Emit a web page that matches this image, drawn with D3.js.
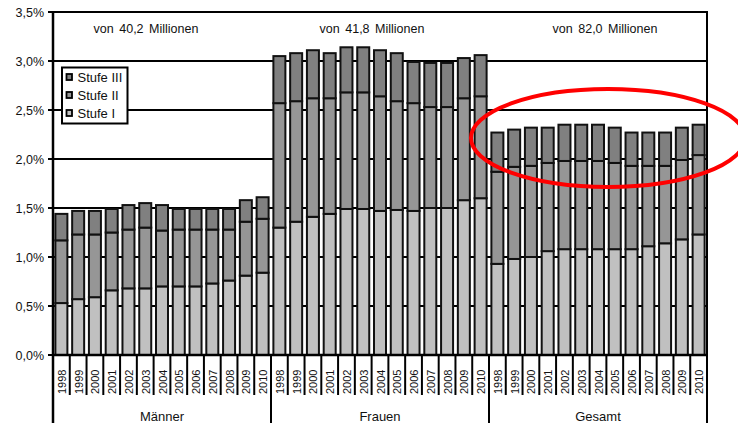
<!DOCTYPE html>
<html>
<head>
<meta charset="utf-8">
<script src="https://cdn.jsdelivr.net/npm/d3@7/dist/d3.min.js"></script>
<style>
  html, body { margin: 0; padding: 0; background: #fff; }
  svg { display: block; font-family: "Liberation Sans", Arial, sans-serif; }
</style>
</head>
<body>
<svg id="chart" width="738" height="423"></svg>
<script>
// ---- data ----
const years = ["1998","1999","2000","2001","2002","2003","2004","2005","2006","2007","2008","2009","2010"];
const groups = ["Männer","Frauen","Gesamt"];
const groupSubtitles = ["von 40,2 Millionen","von 41,8 Millionen","von 82,0 Millionen"];
const seriesNames = ["Stufe I","Stufe II","Stufe III"];
const seriesColors = ["#c0c0c0","#969696","#808080"];
const yTicks = [0, 0.5, 1.0, 1.5, 2.0, 2.5, 3.0, 3.5];

const maennerI   = [0.53,0.57,0.59,0.66,0.68,0.68,0.70,0.70,0.70,0.73,0.76,0.81,0.84];
const maennerII  = [0.64,0.66,0.64,0.59,0.60,0.62,0.57,0.58,0.58,0.55,0.52,0.55,0.55];
const maennerIII = [0.27,0.24,0.24,0.24,0.25,0.25,0.26,0.21,0.21,0.21,0.21,0.22,0.22];

const frauenI    = [1.30,1.36,1.41,1.44,1.49,1.49,1.47,1.48,1.47,1.50,1.50,1.58,1.60];
const frauenII   = [1.27,1.23,1.21,1.18,1.19,1.19,1.17,1.11,1.10,1.03,1.03,1.04,1.04];
const frauenIII  = [0.48,0.49,0.49,0.46,0.46,0.46,0.47,0.49,0.42,0.45,0.45,0.41,0.42];

const gesamtI    = [0.93,0.98,1.00,1.06,1.08,1.08,1.08,1.08,1.08,1.11,1.14,1.18,1.23];
const gesamtII   = [0.94,0.94,0.93,0.90,0.90,0.90,0.90,0.88,0.85,0.82,0.79,0.81,0.81];
const gesamtIII  = [0.40,0.38,0.39,0.36,0.37,0.37,0.37,0.36,0.34,0.34,0.34,0.33,0.31];

// ---- build table ----
const groupSeries = [
  [maennerI, maennerII, maennerIII],
  [frauenI, frauenII, frauenIII],
  [gesamtI, gesamtII, gesamtIII]
];
const rows = [];
groups.forEach((g, gi) => {
  years.forEach((y, yi) => {
    rows.push({
      key: g + "|" + y, group: g, year: y,
      "Stufe I": groupSeries[gi][0][yi],
      "Stufe II": groupSeries[gi][1][yi],
      "Stufe III": groupSeries[gi][2][yi]
    });
  });
});

// ---- layout ----
const W = 738, H = 423;
const plot = { left: 53, right: 707, top: 12, bottom: 355 };
const svg = d3.select("#chart");

const x = d3.scaleBand().domain(rows.map(d => d.key)).range([plot.left, plot.right]).padding(0);
const y = d3.scaleLinear().domain([0, 3.5]).range([plot.bottom, plot.top]);
const color = d3.scaleOrdinal().domain(seriesNames).range(seriesColors);

// gridlines (with tick stubs on the left)
svg.append("g").selectAll("line").data(yTicks).join("line")
  .attr("x1", plot.left - 5).attr("x2", plot.right)
  .attr("y1", d => y(d)).attr("y2", d => y(d))
  .attr("stroke", "#000").attr("stroke-width", 2);

// y labels
const fmt = v => d3.format(".1f")(v).replace(".", ",") + "%";
svg.append("g").selectAll("text").data(yTicks).join("text")
  .attr("x", plot.left - 9).attr("y", d => y(d) + 4.5)
  .attr("text-anchor", "end").attr("font-size", 12.5).attr("fill", "#111")
  .text(fmt);

// bars
const stack = d3.stack().keys(seriesNames);
const stacked = stack(rows);
const barW = 12;
svg.append("g").selectAll("g").data(stacked).join("g")
  .attr("fill", d => color(d.key))
  .selectAll("rect").data(d => d).join("rect")
  .attr("x", d => x(d.data.key) + (x.bandwidth() - barW) / 2)
  .attr("width", barW)
  .attr("y", d => y(d[1]))
  .attr("height", d => y(d[0]) - y(d[1]))
  .attr("stroke", "#111").attr("stroke-width", 2);

// axes borders
svg.append("line").attr("x1", plot.left).attr("x2", plot.left)
  .attr("y1", plot.top - 1).attr("y2", H).attr("stroke", "#000").attr("stroke-width", 2.5);
svg.append("line").attr("x1", plot.right).attr("x2", plot.right)
  .attr("y1", plot.top - 1).attr("y2", H).attr("stroke", "#000").attr("stroke-width", 2);
svg.append("line").attr("x1", plot.left).attr("x2", plot.right)
  .attr("y1", plot.bottom).attr("y2", plot.bottom).attr("stroke", "#000").attr("stroke-width", 2.5);

// category separators
const step = x.step();
const seps = d3.range(1, rows.length);
svg.append("g").selectAll("line").data(seps).join("line")
  .attr("x1", i => plot.left + i * step).attr("x2", i => plot.left + i * step)
  .attr("y1", plot.bottom)
  .attr("y2", i => (i % years.length === 0) ? H : 395)
  .attr("stroke", "#000").attr("stroke-width", 2);

// year labels
svg.append("g").selectAll("text").data(rows).join("text")
  .attr("transform", d => `translate(${x(d.key) + x.bandwidth() / 2 + 0.5},394) rotate(-90)`)
  .attr("dominant-baseline", "central")
  .attr("text-anchor", "start").attr("font-size", 11).attr("fill", "#111")
  .text(d => d.year);

// group labels
const groupCenter = g => {
  const first = x(g + "|" + years[0]);
  const last = x(g + "|" + years[years.length - 1]) + x.bandwidth();
  return (first + last) / 2;
};
svg.append("g").selectAll("text").data(groups).join("text")
  .attr("x", g => groupCenter(g)).attr("y", 421)
  .attr("text-anchor", "middle").attr("font-size", 13).attr("fill", "#111")
  .text(g => g);

// subtitles
const subOffsets = [-16, -8, 7];
svg.append("g").selectAll("text").data(groups).join("text")
  .attr("x", (g, i) => groupCenter(g) + subOffsets[i]).attr("y", 33)
  .attr("text-anchor", "middle").attr("font-size", 12.5).attr("fill", "#111")
  .attr("word-spacing", 2)
  .text((g, i) => groupSubtitles[i]);

// legend
const legend = svg.append("g");
legend.append("rect").attr("x", 62).attr("y", 67.5).attr("width", 65.5).attr("height", 56)
  .attr("fill", "#fff").attr("stroke", "#000").attr("stroke-width", 2);
const legendItems = seriesNames.slice().reverse();
legendItems.forEach((name, i) => {
  const cy = 77 + i * 18;
  legend.append("rect").attr("x", 66.5).attr("y", cy - 3).attr("width", 5.5).attr("height", 6)
    .attr("fill", color(name)).attr("stroke", "#000").attr("stroke-width", 1.8);
  legend.append("text").attr("x", 77.5).attr("y", cy + 5)
    .attr("font-size", 13).attr("fill", "#111").text(name);
});

// red annotation ellipse
svg.append("ellipse")
  .attr("cx", 608).attr("cy", 138).attr("rx", 137).attr("ry", 49)
  .attr("fill", "none").attr("stroke", "#ff0000").attr("stroke-width", 4);
</script>
</body>
</html>
